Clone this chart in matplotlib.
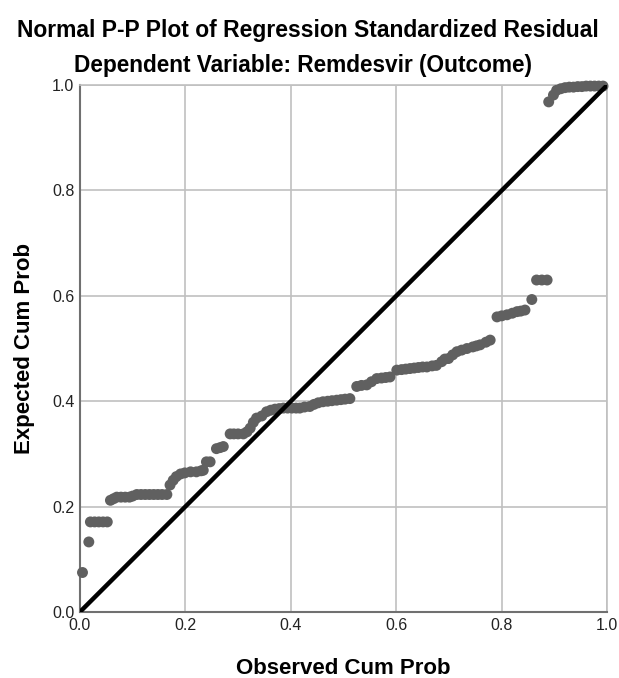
import matplotlib
matplotlib.use("Agg")
import matplotlib.pyplot as plt

plt.rcParams["font.family"] = ["Liberation Sans", "DejaVu Sans"]

# observed vs expected cumulative probability
observed = [
    0.005, 0.017, 0.020, 0.028, 0.036, 0.044, 0.052, 0.058, 0.064, 0.070,
    0.078, 0.086, 0.094, 0.100, 0.108, 0.116, 0.124, 0.132, 0.140, 0.148,
    0.156, 0.165, 0.171, 0.177, 0.183, 0.191, 0.199, 0.210, 0.221, 0.230,
    0.234, 0.240, 0.247, 0.259, 0.266, 0.272, 0.285, 0.292, 0.300, 0.310,
    0.317, 0.323, 0.329, 0.335, 0.345, 0.354, 0.362, 0.370, 0.378, 0.386,
    0.394, 0.402, 0.410, 0.417, 0.426, 0.436, 0.444, 0.452, 0.461, 0.470,
    0.478, 0.487, 0.495, 0.503, 0.512, 0.525, 0.534, 0.544, 0.553, 0.563,
    0.572, 0.580, 0.588, 0.601, 0.610, 0.618, 0.626, 0.634, 0.642, 0.650,
    0.658, 0.668, 0.676, 0.686, 0.692, 0.699, 0.707, 0.715, 0.724, 0.734,
    0.745, 0.752, 0.759, 0.770, 0.778, 0.791, 0.800, 0.810, 0.820, 0.829,
    0.836, 0.844, 0.857, 0.866, 0.876, 0.886, 0.889, 0.898, 0.904, 0.912,
    0.920, 0.928, 0.936, 0.944, 0.952, 0.960, 0.968, 0.976, 0.984, 0.992,
]
expected = [
    0.075, 0.133, 0.171, 0.171, 0.171, 0.171, 0.171, 0.212, 0.215, 0.218,
    0.218, 0.218, 0.218, 0.220, 0.223, 0.223, 0.223, 0.223, 0.223, 0.223,
    0.223, 0.223, 0.241, 0.250, 0.257, 0.262, 0.264, 0.266, 0.266, 0.268,
    0.269, 0.285, 0.285, 0.310, 0.312, 0.314, 0.338, 0.338, 0.338, 0.338,
    0.342, 0.349, 0.360, 0.368, 0.372, 0.380, 0.383, 0.385, 0.386, 0.387,
    0.387, 0.387, 0.387, 0.387, 0.389, 0.390, 0.394, 0.397, 0.399, 0.400,
    0.401, 0.402, 0.403, 0.404, 0.405, 0.428, 0.430, 0.431, 0.437, 0.443,
    0.444, 0.445, 0.446, 0.459, 0.460, 0.461, 0.462, 0.463, 0.464, 0.465,
    0.465, 0.467, 0.468, 0.475, 0.480, 0.481, 0.488, 0.494, 0.497, 0.500,
    0.503, 0.505, 0.507, 0.512, 0.516, 0.560, 0.562, 0.564, 0.567, 0.570,
    0.571, 0.573, 0.593, 0.630, 0.630, 0.630, 0.968, 0.981, 0.990, 0.993,
    0.995, 0.996, 0.996, 0.997, 0.997, 0.998, 0.998, 0.998, 0.998, 0.998,
]
ticks = [0.0, 0.2, 0.4, 0.6, 0.8, 1.0]
tick_labels = ["0.0", "0.2", "0.4", "0.6", "0.8", "1.0"]

fig = plt.figure(figsize=(6.19, 6.78), dpi=100)
ax = fig.add_axes([0.129, 0.0973, 0.852, 0.7773])

ax.grid(True, color="#c0c0c0", linewidth=1.2)
ax.set_axisbelow(True)
ax.scatter(observed, expected, s=62, color="#606060", edgecolors="none",
           zorder=3, clip_on=False)
ax.plot([0, 1], [0, 1], color="black", linewidth=3.2, zorder=4,
        solid_capstyle="round")

ax.set_xlim(0, 1)
ax.set_ylim(0, 1)
ax.set_xticks(ticks)
ax.set_xticklabels(tick_labels)
ax.set_yticks(ticks)
ax.set_yticklabels(tick_labels)
ax.tick_params(length=0, labelsize=11.5, pad=4, colors="#222222")

for side in ["left", "bottom"]:
    ax.spines[side].set_color("#707070")
    ax.spines[side].set_linewidth(1.5)
for side in ["top", "right"]:
    ax.spines[side].set_color("#c0c0c0")
    ax.spines[side].set_linewidth(1.2)

ax.set_xlabel("Observed Cum Prob", fontsize=16, fontweight="bold", labelpad=18)
ax.set_ylabel("Expected Cum Prob", fontsize=16, fontweight="bold", labelpad=12)

fig.text(0.497, 0.955, "Normal P-P Plot of Regression Standardized Residual",
         ha="center", va="center", fontsize=16.5, fontweight="bold")
fig.text(0.49, 0.903, "Dependent Variable: Remdesvir (Outcome)",
         ha="center", va="center", fontsize=16.3, fontweight="bold")

fig.savefig("out.png", dpi=100)
